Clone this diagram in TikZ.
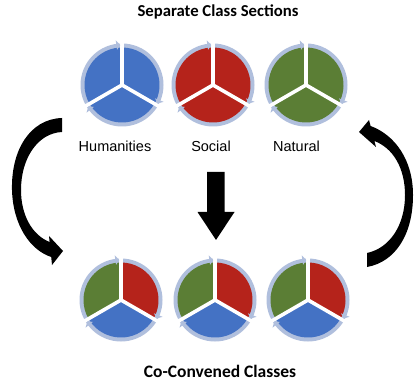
\documentclass[tikz,border=0pt]{standalone}
\usepackage{fontspec}
\setmainfont{Liberation Sans}
\newfontfamily\headfont{Carlito}
\usetikzlibrary{calc}

\definecolor{hueblue}{HTML}{4472C4}
\definecolor{huered}{HTML}{B5231B}
\definecolor{huegreen}{HTML}{5B7E35}
\definecolor{ringblue}{HTML}{B0BFDD}

% Three-sector disc with a clockwise ring of arrows around it.
% #1 centre, #2 upper-left sector, #3 lower sector, #4 upper-right sector
\newcommand\segdisk[4]{%
  \fill[ringblue] (#1) circle[radius=41.5pt];
  \fill[#2] (#1) -- ++(90:37.5pt) arc[start angle=90,end angle=210,radius=37.5pt] -- cycle;
  \fill[#3] (#1) -- ++(210:37.5pt) arc[start angle=210,end angle=330,radius=37.5pt] -- cycle;
  \fill[#4] (#1) -- ++(330:37.5pt) arc[start angle=330,end angle=450,radius=37.5pt] -- cycle;
  \foreach \a in {90,210,330}{
    \pgfmathsetmacro\tipb{\a+8}
    \pgfmathsetmacro\tipa{\a+2.5}
    \draw[gapline] (#1) -- ++(\a:44pt);
    \fill[ringblue] ($(#1)+(\tipb:35.5pt)$) -- ($(#1)+(\tipb:45pt)$) -- ($(#1)+(\tipa:40pt)$) -- cycle;
  }%
}

\tikzset{
  gapline/.style={white,line width=3.6pt},
  label/.style={font=\fontsize{14.5}{16}\selectfont,anchor=base,inner sep=0pt},
  heading/.style={font=\headfont\bfseries,anchor=base,inner sep=0pt},
  blockarrow/.style={fill=black}
}

\begin{document}
\begin{tikzpicture}[x=1pt,y=1pt]
\useasboundingbox (0,0) rectangle (414,380);
\fill[white] (0,0) rectangle (414,380);

% headings
\node[heading,font=\headfont\bfseries\fontsize{16.7}{18}\selectfont] (top) at (218,363) {Separate Class Sections};
\node[heading,font=\headfont\bfseries\fontsize{17.5}{19}\selectfont] (bottom) at (220,3) {Co-Convened Classes};

% separate sections
\coordinate (hum) at (122,295);
\coordinate (soc) at (213,295);
\coordinate (nat) at (306,295);
\segdisk{hum}{hueblue}{hueblue}{hueblue}
\segdisk{soc}{huered}{huered}{huered}
\segdisk{nat}{huegreen}{huegreen}{huegreen}
\node[label] (humlabel) at (115,228) {Humanities};
\node[label] (soclabel) at (211,228) {Social};
\node[label] (natlabel) at (296.5,228) {Natural};

% co-convened classes
\coordinate (coA) at (121,80);
\coordinate (coB) at (215,80);
\coordinate (coC) at (308,80);
\segdisk{coA}{huegreen}{hueblue}{huered}
\segdisk{coB}{huegreen}{hueblue}{huered}
\segdisk{coC}{huegreen}{hueblue}{huered}

% straight arrow down the middle
\fill[blockarrow] (207,208) -- (224.5,208) -- (224.5,168) -- (234.5,168)
  -- (216,140) -- (197.5,168) -- (207,168) -- cycle;

% curved arrow on the left, going down
\fill[blockarrow] (62,262) .. controls (30,261) and (11,230) .. (12,190)
  .. controls (13,155) and (30,130) .. (51.2,123)
  -- (52,115) -- (63,129) -- (49,144) -- (49.6,138)
  .. controls (32,145) and (21,165) .. (21,190)
  .. controls (21,222) and (38,247) .. (62,248) -- cycle;

% curved arrow on the right, going up
\fill[blockarrow] (370.6,254) .. controls (395,245) and (413,220) .. (413,185)
  .. controls (413,145) and (395,118) .. (367,113)
  -- (367,127)
  .. controls (390,132) and (405,155) .. (405,185)
  .. controls (405,212) and (393,232) .. (374.4,239)
  -- (376,233) -- (359,248) -- (369,260) -- cycle;
\end{tikzpicture}
\end{document}
